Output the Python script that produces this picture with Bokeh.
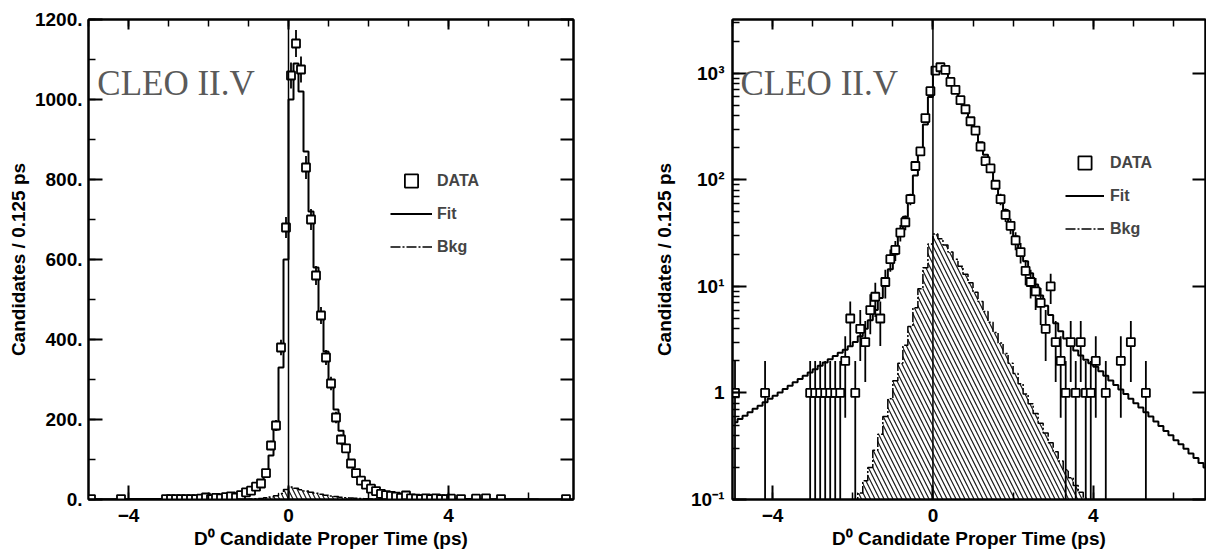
import numpy as np
from bokeh.plotting import figure
from bokeh.layouts import row
from bokeh.models import (Range1d, LinearAxis, SingleIntervalTicker, LogTicker,
                          CustomJSTickFormatter, Span, Label, Legend, LegendItem)
from bokeh.embed import file_html
from bokeh.resources import INLINE

# ---------------- data (bins of 0.125 ps starting at -5 ps) ----------------
BIN_START = -5.0
BIN_WIDTH = 0.125

counts = [1, 0, 0, 0, 0, 0, 1, 0, 0, 0,
          0, 0, 0, 0, 0, 1, 1, 1, 1, 1,
          1, 1, 2, 5, 1, 4, 3, 6, 8, 5,
          11, 18, 22, 32, 40, 66, 135, 185, 380, 680,
          1060, 1140, 1075, 830, 700, 560, 460, 355, 290, 205,
          150, 128, 90, 66, 47, 37, 27, 21, 14, 11,
          9, 7, 4, 10, 3, 2, 1, 3, 1, 3,
          1, 1, 2, 0, 1, 0, 0, 2, 0, 3,
          0, 0, 1, 0, 0, 0, 0, 0, 0, 0,
          0, 0, 0, 0, 0, 1, 0]

fit = [0.53, 0.57, 0.61, 0.66, 0.71, 0.76, 0.82, 0.88, 0.94, 1.01,
       1.09, 1.17, 1.26, 1.35, 1.45, 1.56, 1.67, 1.80, 1.93, 2.07,
       2.22, 2.38, 2.55, 2.75, 3.0, 3.4, 4.0, 4.8, 6.0, 7.8,
       10.5, 14.5, 20, 30, 45, 72, 110, 175, 330, 600,
       1000, 1090, 1020, 870, 720, 580, 465, 370, 290, 225,
       172, 132, 95, 70, 52, 39, 29.5, 22.5, 17.2, 13.3,
       10.4, 8.2, 6.6, 5.4, 4.5, 3.8, 3.25, 2.85, 2.5, 2.25,
       2.05, 1.9, 1.76, 1.6, 1.45, 1.31, 1.19, 1.08, 0.98, 0.88,
       0.8, 0.73, 0.66, 0.6, 0.54, 0.49, 0.44, 0.4, 0.36, 0.33,
       0.3, 0.27, 0.245, 0.22, 0.2, 0.18, 0.165]

bkg = [0, 0, 0, 0, 0, 0, 0, 0, 0, 0,
       0, 0, 0, 0, 0, 0, 0, 0, 0, 0,
       0, 0, 0, 0, 0.09, 0.115, 0.15, 0.2, 0.29, 0.41,
       0.6, 0.88, 1.3, 1.9, 2.8, 4.2, 6.3, 9.5, 15, 25,
       31, 28, 24.5, 21, 18, 15.5, 13, 10.8, 8.8, 7.2,
       5.8, 4.6, 3.7, 2.95, 2.35, 1.9, 1.52, 1.22, 0.98, 0.79,
       0.64, 0.52, 0.42, 0.34, 0.28, 0.23, 0.19, 0.16, 0.135, 0.117,
       0.103, 0.092, 0, 0, 0, 0, 0, 0, 0, 0,
       0, 0, 0, 0, 0, 0, 0, 0, 0, 0,
       0, 0, 0, 0, 0, 0, 0]

legend_labels = ["DATA", "Fit", "Bkg"]
title_text = "CLEO II.V"
x_label = "D\u2070 Candidate Proper Time (ps)"
y_label = "Candidates / 0.125 ps"

# ---------------- derived arrays ----------------
counts_a = np.array(counts, dtype=float)
fit_a = np.array(fit, dtype=float)
bkg_a = np.array(bkg, dtype=float)
centers = BIN_START + BIN_WIDTH * (np.arange(len(counts_a)) + 0.5)
has = counts_a > 0
xd = centers[has]
yd = counts_a[has]
err = np.sqrt(yd)
bmask = bkg_a > 0
xb = centers[bmask]
yb = bkg_a[bmask]

FONT = "Liberation Sans"
blank_fmt_code = "return '';"


def style_axis(ax, tick_in, minor_in, labels=True, size="19px"):
    ax.axis_line_color = "black"
    ax.axis_line_width = 2
    ax.major_tick_in = tick_in
    ax.major_tick_out = 0
    ax.minor_tick_in = minor_in
    ax.minor_tick_out = 0
    ax.major_tick_line_width = 2
    ax.minor_tick_line_width = 1.5
    ax.major_tick_line_color = "black"
    ax.minor_tick_line_color = "black" if minor_in > 0 else None
    if labels:
        ax.major_label_text_font = FONT
        ax.major_label_text_font_style = "bold"
        ax.major_label_text_font_size = size
        ax.major_label_text_color = "black"
        ax.axis_label_text_font = FONT
        ax.axis_label_text_font_style = "bold"
        ax.axis_label_text_font_size = "19px"
        ax.axis_label_text_color = "black"
    else:
        ax.formatter = CustomJSTickFormatter(code=blank_fmt_code)
        ax.major_label_text_color = None
        ax.major_label_standoff = 0


xfmt = CustomJSTickFormatter(code="return tick < 0 ? '\\u2212' + Math.abs(tick).toFixed(0) : tick.toFixed(0);")


def make_panel(log):
    if log:
        p = figure(frame_width=473, frame_height=480, min_border_left=132, min_border_right=1,
                   min_border_top=19, min_border_bottom=55,
                   x_range=Range1d(-5, 6.8), y_range=Range1d(0.1, 3200), y_axis_type="log",
                   output_backend="svg", toolbar_location=None)
    else:
        p = figure(frame_width=485, frame_height=480, min_border_left=88, min_border_right=27,
                   min_border_top=19, min_border_bottom=55,
                   x_range=Range1d(-5, 7.125), y_range=Range1d(0, 1200),
                   output_backend="svg", toolbar_location=None)
    p.xgrid.visible = False
    p.ygrid.visible = False
    p.outline_line_color = "black"
    p.outline_line_width = 2
    p.background_fill_color = "white"
    p.border_fill_color = "white"

    # bottom axis
    bx = p.xaxis[0]
    bx.ticker = SingleIntervalTicker(interval=4, num_minor_ticks=2)
    bx.formatter = xfmt
    style_axis(bx, 14, 7)
    bx.major_label_standoff = 9
    bx.axis_label = x_label
    bx.axis_label_standoff = 3

    # left axis
    ly = p.yaxis[0]
    if log:
        ly.ticker = LogTicker(num_minor_ticks=10)
        ly.formatter = CustomJSTickFormatter(code="""
            const e = Math.round(Math.log10(tick));
            if (e === 0) return '1';
            const sup = {'-1': '\\u207b\\u00b9', '1': '\\u00b9', '2': '\\u00b2', '3': '\\u00b3', '4': '\\u2074'};
            return '10' + (sup[String(e)] || '');
        """)
        style_axis(ly, 14, 7)
        ly.major_label_standoff = 8
        ly.axis_label_standoff = 13
    else:
        ly.ticker = SingleIntervalTicker(interval=200, num_minor_ticks=2)
        ly.formatter = CustomJSTickFormatter(code="return tick.toFixed(0) + '.';")
        style_axis(ly, 14, 7)
        ly.major_label_standoff = 6
        ly.axis_label_standoff = 3
    ly.axis_label = y_label

    # top / right axes (ticks only)
    tx = LinearAxis(ticker=SingleIntervalTicker(interval=4, num_minor_ticks=4))
    style_axis(tx, 10, 7, labels=False)
    p.add_layout(tx, "above")
    if log:
        ry = LinearAxis(ticker=LogTicker(num_minor_ticks=10))
        style_axis(ry, 13, 0, labels=False)
    else:
        ry = LinearAxis(ticker=SingleIntervalTicker(interval=100, num_minor_ticks=0))
        style_axis(ry, 13, 0, labels=False)
    p.add_layout(ry, "right")

    base = 0.01 if log else 0.0
    # background (hatched)
    p.varea_step(x=xb, y1=np.full(len(yb), base), y2=yb, step_mode="center",
                 fill_color=None, hatch_pattern="\\", hatch_color="black",
                 hatch_scale=9, hatch_weight=1.2, hatch_alpha=0.9)
    bkg_r = p.step(x=xb, y=yb, mode="center", line_color="black", line_width=1.5,
                   line_dash="10 2 2 2")

    # fit
    fit_r = p.step(x=centers, y=fit_a, mode="center", line_color="black", line_width=2)

    # t = 0 line
    p.add_layout(Span(location=0, dimension="height", line_color="black", line_width=1.5))

    # data with errors
    lo = np.maximum(yd - err, base)
    if log:
        lo = np.maximum(lo, 0.01)
    p.segment(x0=xd, y0=lo, x1=xd, y1=yd + err, line_color="black", line_width=1.8)
    data_r = p.scatter(x=xd, y=yd, marker="square", size=8, fill_color="white",
                       line_color="black", line_width=1.8)

    # label
    if log:
        lab = Label(x=-4.8, y=809, text=title_text)
    else:
        lab = Label(x=-4.78, y=1040, text=title_text)
    lab.text_font = "Liberation Serif"
    lab.text_font_size = "35px"
    lab.text_color = "#5a5a5a"
    lab.text_baseline = "alphabetic"
    p.add_layout(lab)

    # legend
    items = [LegendItem(label=legend_labels[0], renderers=[data_r]),
             LegendItem(label=legend_labels[1], renderers=[fit_r]),
             LegendItem(label=legend_labels[2], renderers=[bkg_r])]
    leg = Legend(items=items)
    leg.location = (333, 254) if log else (302, 236)
    leg.glyph_width = 39 if log else 42
    leg.glyph_height = 33
    leg.label_height = 33
    leg.spacing = 0
    leg.padding = 0
    leg.margin = 0
    leg.label_standoff = 6 if log else 5
    leg.border_line_color = None
    leg.background_fill_alpha = 0
    leg.label_text_font = FONT
    leg.label_text_font_style = "bold"
    leg.label_text_font_size = "16px"
    leg.label_text_baseline = "middle"
    p.add_layout(leg, "center")
    return p


p1 = make_panel(False)
p2 = make_panel(True)
layout = row(p1, p2, spacing=0)
open("out.html", "w").write(file_html(layout, INLINE))
